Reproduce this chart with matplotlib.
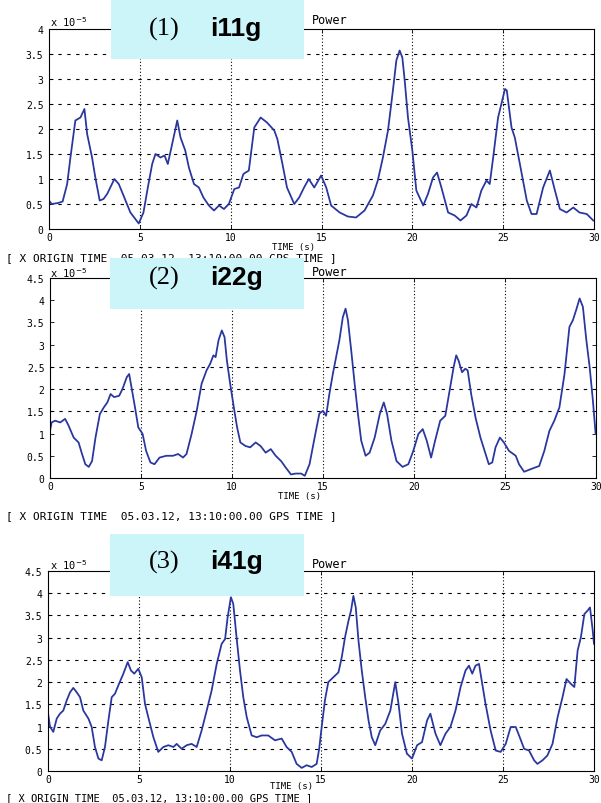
import numpy as np
import matplotlib.pyplot as plt
from matplotlib.patches import Rectangle

# ---- data (time in s, power in units of 1e-5) ----
t1 = [0.0, 0.15, 0.5, 0.75, 1.0, 1.18, 1.45, 1.73, 1.95, 2.1, 2.37, 2.55, 2.79, 3.0, 3.2,
      3.6, 3.84, 4.1, 4.48, 4.94, 5.2, 5.44, 5.68, 5.86, 6.14, 6.36, 6.54, 6.78, 7.06, 7.24,
      7.5, 7.7, 7.98, 8.25, 8.5, 8.8, 9.08, 9.36, 9.63, 9.9, 10.2, 10.46, 10.7, 11.0, 11.3,
      11.65, 12.0, 12.4, 12.57, 12.85, 13.1, 13.5, 13.77, 14.04, 14.3, 14.6, 14.98, 15.26,
      15.53, 16.0, 16.45, 16.9, 17.37, 17.83, 18.1, 18.38, 18.66, 18.93, 19.12, 19.3, 19.45,
      19.58, 19.76, 20.0, 20.22, 20.6, 20.86, 21.14, 21.36, 21.6, 21.97, 22.33, 22.65, 22.98,
      23.25, 23.53, 23.8, 24.08, 24.26, 24.45, 24.72, 25.1, 25.2, 25.46, 25.64, 25.92, 26.3,
      26.56, 26.84, 27.2, 27.57, 27.85, 28.12, 28.49, 28.86, 29.2, 29.6, 29.96]
p1 = [0.57, 0.5, 0.52, 0.55, 0.9, 1.43, 2.17, 2.23, 2.4, 1.9, 1.43, 1.03, 0.57, 0.6, 0.7,
      1.0, 0.9, 0.67, 0.33, 0.11, 0.33, 0.83, 1.3, 1.5, 1.43, 1.47, 1.3, 1.7, 2.17, 1.83,
      1.57, 1.23, 0.9, 0.83, 0.63, 0.47, 0.37, 0.47, 0.4, 0.5, 0.8, 0.83, 1.1, 1.17, 2.03,
      2.23, 2.13, 1.97, 1.8, 1.3, 0.83, 0.5, 0.63, 0.83, 1.0, 0.83, 1.07, 0.83,
      0.47, 0.33, 0.25, 0.23, 0.37, 0.67, 0.97, 1.43, 1.97, 2.77, 3.37, 3.57, 3.43,
      2.97, 2.23, 1.57, 0.77, 0.47, 0.7, 1.03, 1.13, 0.83, 0.33, 0.27, 0.17, 0.27,
      0.5, 0.43, 0.77, 0.97, 0.9, 1.43, 2.23, 2.8, 2.77, 2.03, 1.83, 1.3, 0.57,
      0.3, 0.3, 0.83, 1.17, 0.77, 0.4, 0.33, 0.43, 0.33, 0.3, 0.17]

t2 = [0.0, 0.09, 0.28, 0.56, 0.83, 1.02, 1.3, 1.57, 1.76, 1.94, 2.13, 2.31, 2.5, 2.74, 2.96,
      3.15, 3.33, 3.52, 3.8, 3.98, 4.22, 4.35, 4.48, 4.67, 4.85, 5.09, 5.28, 5.52, 5.74, 6.02,
      6.39, 6.76, 7.04, 7.31, 7.5, 7.78, 8.06, 8.33, 8.6, 8.8, 8.98, 9.1, 9.26, 9.44, 9.59,
      9.72, 9.9, 10.1, 10.28, 10.46, 10.74, 11.0, 11.3, 11.57, 11.85, 12.13, 12.4, 12.7,
      12.96, 13.24, 13.5, 13.8, 14.0, 14.26, 14.54, 14.8, 15.0, 15.17, 15.35, 15.54, 15.72,
      15.9, 16.09, 16.24, 16.37, 16.55, 16.74, 16.92, 17.1, 17.34, 17.56, 17.84, 18.12,
      18.34, 18.52, 18.76, 19.04, 19.37, 19.69, 19.96, 20.24, 20.48, 20.7, 20.94, 21.16,
      21.44, 21.72, 21.99, 22.18, 22.32, 22.45, 22.64, 22.82, 22.95, 23.14, 23.38, 23.65,
      23.93, 24.11, 24.3, 24.48, 24.72, 24.94, 25.22, 25.59, 25.77, 26.05, 26.42, 26.88,
      27.16, 27.44, 27.71, 27.99, 28.27, 28.54, 28.73, 28.91, 29.1, 29.28, 29.47, 29.65,
      29.83, 29.98]
p2 = [1.06, 1.25, 1.29, 1.25, 1.33, 1.18, 0.91, 0.8, 0.54, 0.31, 0.25, 0.38, 0.91, 1.44, 1.59,
      1.7, 1.89, 1.82, 1.85, 2.0, 2.27, 2.34, 2.04, 1.59, 1.14, 0.99, 0.61, 0.35, 0.31, 0.46,
      0.5, 0.5, 0.54, 0.46, 0.54, 0.99, 1.51, 2.12, 2.42, 2.57, 2.76, 2.72, 3.1, 3.32, 3.17,
      2.64, 2.12, 1.59, 1.14, 0.8, 0.72, 0.69, 0.8, 0.72, 0.57, 0.65, 0.5, 0.38,
      0.23, 0.08, 0.1, 0.1, 0.05, 0.31, 0.91, 1.45, 1.51, 1.4, 1.89, 2.34, 2.72,
      3.1, 3.62, 3.81, 3.55, 2.87, 2.12, 1.44, 0.84, 0.5, 0.57, 0.91, 1.44,
      1.7, 1.44, 0.84, 0.38, 0.25, 0.31, 0.61, 0.99, 1.1, 0.84, 0.46, 0.84,
      1.29, 1.4, 2.04, 2.5, 2.76, 2.64, 2.38, 2.46, 2.42, 1.89, 1.36, 0.91,
      0.54, 0.31, 0.35, 0.69, 0.91, 0.8, 0.61, 0.5, 0.31, 0.14, 0.2, 0.27,
      0.61, 1.06, 1.29, 1.59, 2.34, 3.4, 3.55, 3.78, 4.04, 3.85, 3.1, 2.5,
      1.74, 0.99]

t3 = [0.0, 0.11, 0.29, 0.48, 0.66, 0.84, 1.03, 1.21, 1.39, 1.58, 1.76, 1.94, 2.22, 2.4, 2.58,
      2.77, 2.95, 3.13, 3.32, 3.5, 3.68, 3.9, 4.14, 4.38, 4.56, 4.74, 4.96, 5.15, 5.33, 5.51,
      5.79, 6.06, 6.34, 6.61, 6.89, 7.07, 7.34, 7.62, 7.89, 8.17, 8.44, 8.72, 8.99, 9.27,
      9.54, 9.73, 9.87, 10.05, 10.18, 10.36, 10.55, 10.73, 10.92, 11.19, 11.47, 11.74, 12.1,
      12.47, 12.84, 13.11, 13.39, 13.66, 13.94, 14.21, 14.49, 14.76, 14.9, 15.04, 15.22,
      15.4, 15.68, 15.96, 16.14, 16.32, 16.51, 16.65, 16.78, 16.91, 17.06, 17.24, 17.43,
      17.61, 17.79, 17.98, 18.25, 18.53, 18.81, 19.08, 19.26, 19.45, 19.72, 20.0, 20.28,
      20.55, 20.83, 21.01, 21.29, 21.56, 21.84, 22.11, 22.39, 22.67, 22.94, 23.13, 23.31,
      23.49, 23.68, 23.86, 24.04, 24.32, 24.6, 24.87, 25.15, 25.42, 25.7, 25.92, 26.16,
      26.43, 26.71, 26.89, 27.17, 27.44, 27.72, 28.0, 28.27, 28.49, 28.73, 28.92, 29.1,
      29.28, 29.47, 29.65, 29.78, 29.93, 30.0]
p3 = [1.3, 1.0, 0.88, 1.18, 1.29, 1.36, 1.59, 1.77, 1.87, 1.77, 1.66, 1.36, 1.18, 0.99, 0.54,
      0.28, 0.24, 0.54, 1.14, 1.66, 1.74, 1.96, 2.19, 2.45, 2.26, 2.19, 2.3, 2.11, 1.51, 1.21,
      0.76, 0.43, 0.54, 0.58, 0.54, 0.61, 0.5, 0.58, 0.61, 0.54, 0.91, 1.36, 1.81, 2.41,
      2.86, 2.97, 3.46, 3.91, 3.76, 3.01, 2.26, 1.66, 1.21, 0.8, 0.76, 0.8, 0.8,
      0.69, 0.73, 0.54, 0.43, 0.16, 0.07, 0.13, 0.09, 0.16, 0.5, 1.0, 1.6,
      2.0, 2.11, 2.22, 2.56, 3.01, 3.38, 3.61, 3.94, 3.68, 2.93, 2.26, 1.66,
      1.14, 0.76, 0.58, 0.91, 1.06, 1.36, 2.0, 1.51, 0.84, 0.39, 0.28, 0.58,
      0.65, 1.14, 1.29, 0.84, 0.58, 0.84, 0.99, 1.36, 1.89, 2.26, 2.37, 2.19,
      2.37, 2.41, 1.96, 1.51, 0.91, 0.46, 0.43, 0.61, 0.99, 0.99, 0.76, 0.5,
      0.46, 0.24, 0.16, 0.24, 0.35, 0.61, 1.21, 1.66, 2.07, 1.96, 1.89, 2.71,
      3.01, 3.53, 3.61, 3.68, 3.16, 2.86]

labels = ["(1)", "(2)", "(3)"]
names = ["i11g", "i22g", "i41g"]
ymax = [4, 4.5, 4.5]
# which horizontal grid lines survive in the scan
hgrid = [[0.5, 1, 1.5, 2, 2.5, 3, 3.5],
         [1.5, 2, 2.5],
         [0.5, 1, 1.5, 2, 2.5, 3, 3.5, 4]]
origin_txt = "[ X ORIGIN TIME  05.03.12, 13:10:00.00 GPS TIME ]"

W, H = 601, 804
fig = plt.figure(figsize=(W / 100, H / 100), dpi=100)
mono = ["DejaVu Sans Mono"]


def fx(px):
    return px / W


def fy(py):
    return 1 - py / H


# axes boxes in pixels: left, top, right, bottom
boxes = [(49, 30, 594, 230), (50, 279, 596, 479), (48, 572, 594, 772)]
# pixel positions for texts: header row, xlabel (x, y), origin row
rows = [(22, 294, 248, 258), (273, 300, 497, 516), (565, 291, 787, 798.5)]
tags = [(111, 0, 304, 60, 29), (110, 259, 304, 310, 278), (110, 535, 304, 597, 562)]

series = [(t1, p1), (t2, p2), (t3, p3)]
line_col = "#3142c0"

for i in range(3):
    l, t, r, b = boxes[i]
    ax = fig.add_axes([fx(l), fy(b), fx(r - l), fy(t) - fy(b)])
    x, y = series[i]
    ax.plot(x, y, color=line_col, lw=1.3)
    ax.plot(x, y, color="#2a2d55", lw=0.5, alpha=0.7)
    ax.set_xlim(0, 30)
    ax.set_ylim(0, ymax[i])
    ax.set_xticks(np.arange(0, 31, 5))
    yt = np.arange(0, ymax[i] + 0.01, 0.5)
    ax.set_yticks(yt)
    ax.set_yticklabels([("%g" % v) for v in yt])
    ax.tick_params(direction="in", length=3, width=0.6, labelsize=7, pad=4,
                   top=True, right=True)
    ax.tick_params(axis="x", pad=2)
    for lab in ax.get_xticklabels() + ax.get_yticklabels():
        lab.set_family(mono)
    for xv in [5, 10, 15, 20, 25]:
        ax.axvline(xv, color="black", lw=0.8, ls=(0, (1, 2)), zorder=1)
    for yv in hgrid[i]:
        ax.axhline(yv, color="black", lw=0.8, ls=(0, (3, 5)), zorder=1)
    for s in ax.spines.values():
        s.set_linewidth(0.8)

    hy, xlx, xly, oy = rows[i]
    fig.text(fx(50), fy(hy), "x 10$^{-5}$", fontsize=7.5, family=mono, va="center", ha="left")
    fig.text(fx(312), fy(hy - 1), "Power", fontsize=8.5, family=mono, va="center", ha="left")
    fig.text(fx(xlx), fy(xly), "TIME (s)", fontsize=6.5, family=mono, va="center", ha="center")
    fig.text(fx(6), fy(oy), origin_txt, fontsize=7.5 if i == 2 else 8, family=mono,
             va="center", ha="left")

    bx0, by0, bx1, by1, ty = tags[i]
    fig.patches.append(Rectangle((fx(bx0), fy(by1)), fx(bx1 - bx0), fy(by0) - fy(by1),
                                 transform=fig.transFigure, facecolor="#ccf5fa",
                                 edgecolor="none", zorder=5))
    fig.text(fx(164), fy(ty), labels[i], fontsize=19, family=["Liberation Serif", "DejaVu Serif"],
             va="center", ha="center", zorder=6)
    fig.text(fx(236), fy(ty), names[i], fontsize=19, fontweight="bold",
             family=["Liberation Sans Narrow", "Liberation Sans", "DejaVu Sans"],
             va="center", ha="center", zorder=6)

fig.savefig("out.png", dpi=100)
